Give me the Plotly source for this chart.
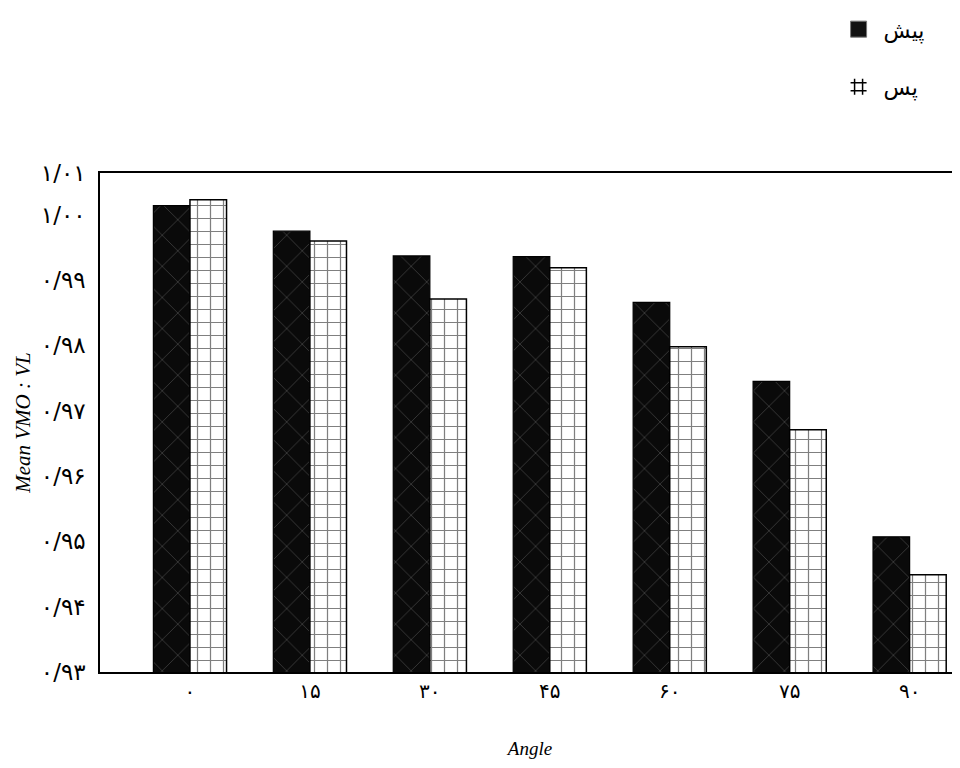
import plotly.graph_objects as go

# Data
angles = ["۰", "۱۵", "۳۰", "۴۵", "۶۰", "۷۵", "۹۰"]
pre_values = [1.0014, 0.9975, 0.9937, 0.9936, 0.9866, 0.9745, 0.9507]
post_values = [1.0023, 0.9960, 0.9871, 0.9919, 0.9798, 0.9671, 0.9449]
series_names = ["پیش", "پس"]

y_tick_vals = [0.93, 0.94, 0.95, 0.96, 0.97, 0.98, 0.99, 1.00, 1.0064]
y_tick_text = ["۰/۹۳", "۰/۹۴", "۰/۹۵", "۰/۹۶", "۰/۹۷", "۰/۹۸", "۰/۹۹", "۱/۰۰", "۱/۰۱"]

fig = go.Figure()
fig.add_trace(go.Bar(
    x=angles, y=pre_values, name=series_names[0], showlegend=False,
    marker=dict(color="#0a0a0a", line=dict(color="black", width=1.2),
                pattern=dict(shape="x", fgcolor="#6a6a6a", bgcolor="#0a0a0a",
                             size=22, solidity=0.08)),
))
fig.add_trace(go.Bar(
    x=angles, y=post_values, name=series_names[1], showlegend=False,
    marker=dict(color="white", line=dict(color="black", width=1.5),
                pattern=dict(shape="+", fgcolor="black", bgcolor="white",
                             size=13, solidity=0.18)),
))
# legend-only entries with larger swatches
fig.add_trace(go.Scatter(
    x=[None], y=[None], mode="markers", name=series_names[0], legendgroup="a",
    marker=dict(symbol="square", size=26, color="#111111",
                line=dict(color="#777777", width=1)),
))
fig.add_trace(go.Scatter(
    x=[None], y=[None], mode="markers", name=series_names[1], legendgroup="b",
    marker=dict(symbol="hash-open", size=26, color="black",
                line=dict(color="black", width=1.5)),
))

fig.update_layout(
    width=952, height=760,
    margin=dict(l=92, r=0, t=165, b=96, autoexpand=False),
    paper_bgcolor="white", plot_bgcolor="white",
    barmode="group", bargap=0.39, bargroupgap=0.0,
    showlegend=True,
    legend=dict(x=0.853, y=1.33, xanchor="left", yanchor="top",
                font=dict(family="DejaVu Sans", size=22, color="black"),
                tracegroupgap=26, bgcolor="rgba(0,0,0,0)",
                itemsizing="trace", itemwidth=40),
    xaxis=dict(range=[-0.75, 6.42], showline=True, linecolor="black", linewidth=1.5,
               mirror=True, ticks="", showgrid=False, automargin=False,
               tickfont=dict(family="DejaVu Sans", size=20, color="black"),
               title=dict(text="Angle", standoff=40,
                          font=dict(family="Liberation Serif", size=19, color="black",
                                    style="italic"))),
    yaxis=dict(range=[0.93, 1.0064], showline=True, linecolor="black", linewidth=1.5,
               ticks="", showgrid=False, zeroline=False, automargin=False,
               tickvals=y_tick_vals, ticktext=y_tick_text, ticklabelstandoff=8,
               tickfont=dict(family="DejaVu Sans", size=23, color="black"),
               title=dict(text="Mean VMO : VL", standoff=4,
                          font=dict(family="Liberation Serif", size=21, color="black",
                                    style="italic"))),
)

fig.write_html("out.html")
